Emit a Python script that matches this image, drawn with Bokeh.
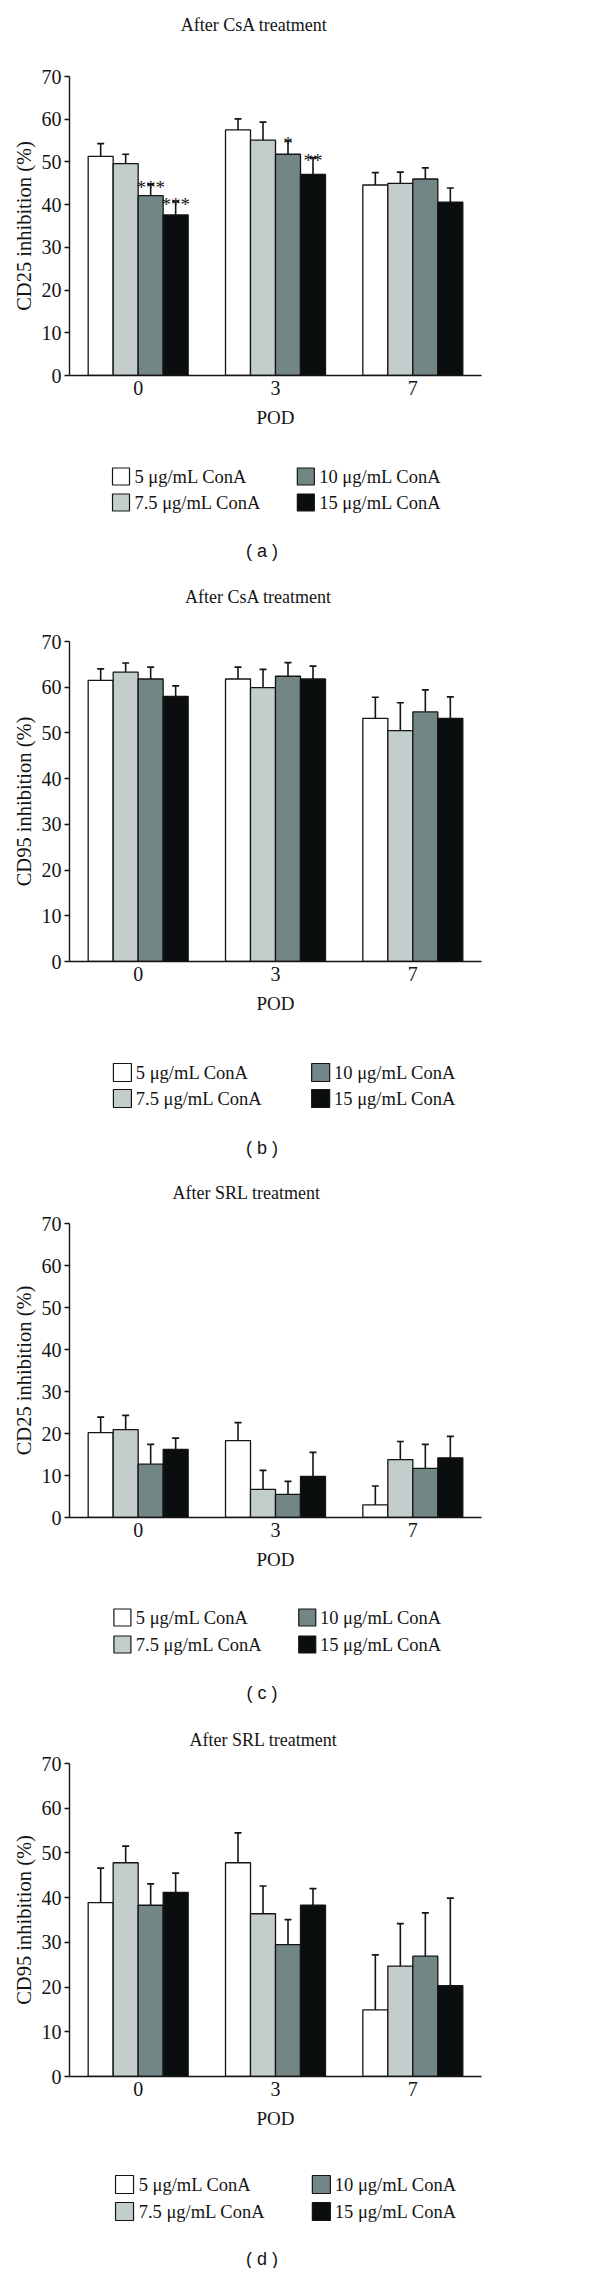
from bokeh.plotting import figure
from bokeh.models import Range1d, FactorRange, SingleIntervalTicker, ColumnDataSource
from bokeh.layouts import column
from bokeh.transform import dodge
from bokeh.core.properties import value
from bokeh.embed import file_html
from bokeh.resources import INLINE

# ---------------- data ----------------
pods = ["0", "3", "7"]
concs = ["5 μg/mL ConA", "7.5 μg/mL ConA", "10 μg/mL ConA", "15 μg/mL ConA"]
colors = ["#ffffff", "#c3cdcc", "#738686", "#0b0e0e"]

# (a) CD25 inhibition after CsA; rows = concentration, cols = POD
a_mean = [[51.3, 57.5, 44.6], [49.6, 55.1, 45.0], [42.1, 51.8, 46.0], [37.6, 47.1, 40.6]]
a_err = [[3.0, 2.6, 2.9], [2.2, 4.2, 2.6], [2.7, 3.1, 2.6], [3.2, 3.9, 3.3]]
a_sig = [["", "", ""], ["", "", ""], ["***", "*", ""], ["***", "**", ""]]

# (b) CD95 inhibition after CsA
b_mean = [[61.5, 61.8, 53.2], [63.3, 59.9, 50.5], [61.8, 62.4, 54.6], [58.0, 61.8, 53.2]]
b_err = [[2.5, 2.6, 4.6], [2.0, 4.0, 6.1], [2.6, 3.0, 4.8], [2.3, 2.8, 4.7]]

# (c) CD25 inhibition after SRL
c_mean = [[20.2, 18.3, 3.0], [20.9, 6.7, 13.8], [12.7, 5.5, 11.7], [16.2, 9.8, 14.2]]
c_err = [[3.7, 4.3, 4.5], [3.4, 4.5, 4.3], [4.7, 3.1, 5.7], [2.7, 5.7, 5.1]]

# (d) CD95 inhibition after SRL
d_mean = [[38.9, 47.8, 14.9], [47.8, 36.4, 24.7], [38.3, 29.5, 26.9], [41.2, 38.3, 20.3]]
d_err = [[7.7, 6.7, 12.3], [3.7, 6.2, 9.5], [4.8, 5.6, 9.7], [4.3, 3.7, 19.6]]

no_sig = [["", "", ""]] * 4

titles = ["After CsA treatment", "After CsA treatment", "After SRL treatment", "After SRL treatment"]
ylabels = ["CD25 inhibition (%)", "CD95 inhibition (%)", "CD25 inhibition (%)", "CD95 inhibition (%)"]
captions = ["( a )", "( b )", "( c )", "( d )"]
xlabel = "POD"

# ---------------- styling ----------------
W = 584
SERIF = "Liberation Serif"
SANS = "Liberation Sans"
INK = "#141414"
BAR_W = 0.182


def chart(mean, err, sig, ylabel, top, f_top, f_bot, bottom, f_left, f_right):
    p = figure(width=W, height=bottom - top,
               x_range=FactorRange(*pods), y_range=Range1d(0, 70),
               output_backend="svg", toolbar_location=None, title=None,
               min_border_left=f_left - 8, min_border_right=W - (f_right - 8),
               min_border_top=f_top - top, min_border_bottom=bottom - f_bot)
    p.outline_line_color = None
    p.xgrid.visible = False
    p.ygrid.visible = False
    p.background_fill_color = None
    p.border_fill_color = None

    for k in range(len(concs)):
        off = (k - 1.5) * BAR_W
        src = ColumnDataSource(dict(pod=pods, mean=mean[k],
                                    top=[m + e for m, e in zip(mean[k], err[k])],
                                    sig=sig[k]))
        xs = dodge("pod", off, range=p.x_range)
        p.segment(x0=xs, y0="mean", x1=xs, y1="top", source=src,
                  line_color=INK, line_width=1.6)
        p.scatter(x=xs, y="top", source=src, marker="dash", size=7,
                  line_color=INK, line_width=1.7)
        p.vbar(x=xs, top="mean", bottom=0, width=BAR_W, source=src,
               fill_color=colors[k], line_color=INK, line_width=1.3)
        p.text(x=xs, y="top", text="sig", source=src, text_align="center",
               text_baseline="alphabetic", y_offset=3,
               text_font=value(SERIF), text_font_size="19px", text_color=INK)

    for ax in (p.xaxis[0], p.yaxis[0]):
        ax.axis_line_color = INK
        ax.axis_line_width = 1.4
        ax.major_label_text_font = SERIF
        ax.major_label_text_font_size = "20px"
        ax.major_label_text_color = INK
        ax.axis_label_text_font = SERIF
        ax.axis_label_text_font_size = "20.5px"
        ax.axis_label_text_font_style = "normal"
        ax.axis_label_text_color = INK
        ax.minor_tick_line_color = None

    xa = p.xaxis[0]
    xa.major_tick_line_color = None
    xa.major_tick_out = 0
    xa.major_label_standoff = 5
    xa.axis_label = xlabel
    xa.axis_label_standoff = 9
    xa.axis_label_text_font_size = "19px"

    ya = p.yaxis[0]
    ya.ticker = SingleIntervalTicker(interval=10, num_minor_ticks=0)
    ya.major_tick_out = 5
    ya.major_tick_in = 0
    ya.major_tick_line_color = INK
    ya.major_tick_line_width = 1.4
    ya.major_label_standoff = 3
    ya.axis_label = ylabel
    ya.axis_label_standoff = 4
    return p


def strip(page_top, page_bottom, texts, legend=None, caption=None):
    H = page_bottom - page_top
    s = figure(width=W, height=H, x_range=Range1d(0, W), y_range=Range1d(H, 0),
               output_backend="svg", toolbar_location=None, title=None,
               x_axis_type=None, y_axis_type=None, min_border=0,
               min_border_left=0, min_border_right=0, min_border_top=0,
               min_border_bottom=0)
    s.outline_line_color = None
    s.background_fill_color = None
    s.border_fill_color = None
    for (txt, x, y) in texts:
        s.text(x=[x - 8], y=[y - page_top], text=[txt], text_align="center",
               text_baseline="middle", text_font=value(SERIF),
               text_font_size="18px", text_color=INK)
    if legend is not None:
        bx_l, tx_l, bx_r, tx_r, rows, box = legend
        bxs = [bx_l, bx_l, bx_r, bx_r]
        txs = [tx_l, tx_l, tx_r, tx_r]
        ys = [rows[0], rows[1], rows[0], rows[1]]
        src = ColumnDataSource(dict(
            bx=[b - 8 for b in bxs], tx=[t - 8 for t in txs],
            y=[v - page_top for v in ys], label=concs, color=colors))
        s.rect(x="bx", y="y", width=box, height=box, width_units="screen",
               height_units="screen", source=src, fill_color="color",
               line_color=INK, line_width=1.2)
        s.text(x="tx", y="y", text="label", source=src, text_align="left",
               text_baseline="middle", text_font=value(SERIF),
               text_font_size="18.5px", text_color=INK)
    if caption is not None:
        txt, x, y = caption
        s.text(x=[x - 8], y=[y - page_top], text=[txt], text_align="center",
               text_baseline="middle", text_font=value(SANS),
               text_font_size="18px", text_color=INK)
    return s


s0 = strip(8, 72, [(titles[0], 270, 32)])
ca = chart(a_mean, a_err, a_sig, ylabels[0], 72, 84, 383, 445, 70, 505)
s1 = strip(445, 637, [(titles[1], 276, 604)],
           legend=(81, 100, 343, 362, (484, 510), 17), caption=(captions[0], 281, 558))
cb = chart(b_mean, b_err, no_sig, ylabels[1], 637, 649, 969, 1032, 76, 489)
s2 = strip(1032, 1219, [(titles[2], 259, 1200)],
           legend=(83, 102, 364, 383, (1080, 1106), 18), caption=(captions[1], 281, 1155))
cc = chart(c_mean, c_err, no_sig, ylabels[2], 1219, 1231, 1525, 1585, 75, 505)
s3 = strip(1585, 1759, [(titles[3], 283, 1747)],
           legend=(83, 102, 345, 363, (1625, 1652), 17), caption=(captions[2], 281, 1700))
cd = chart(d_mean, d_err, no_sig, ylabels[3], 1759, 1771, 2084, 2145, 77, 492)
s4 = strip(2145, 2276, [],
           legend=(86, 106, 365, 384, (2192, 2219), 18), caption=(captions[3], 281, 2266))

layout = column(s0, ca, s1, cb, s2, cc, s3, cd, s4, spacing=0)

with open("out.html", "w") as f:
    f.write(file_html(layout, INLINE))
